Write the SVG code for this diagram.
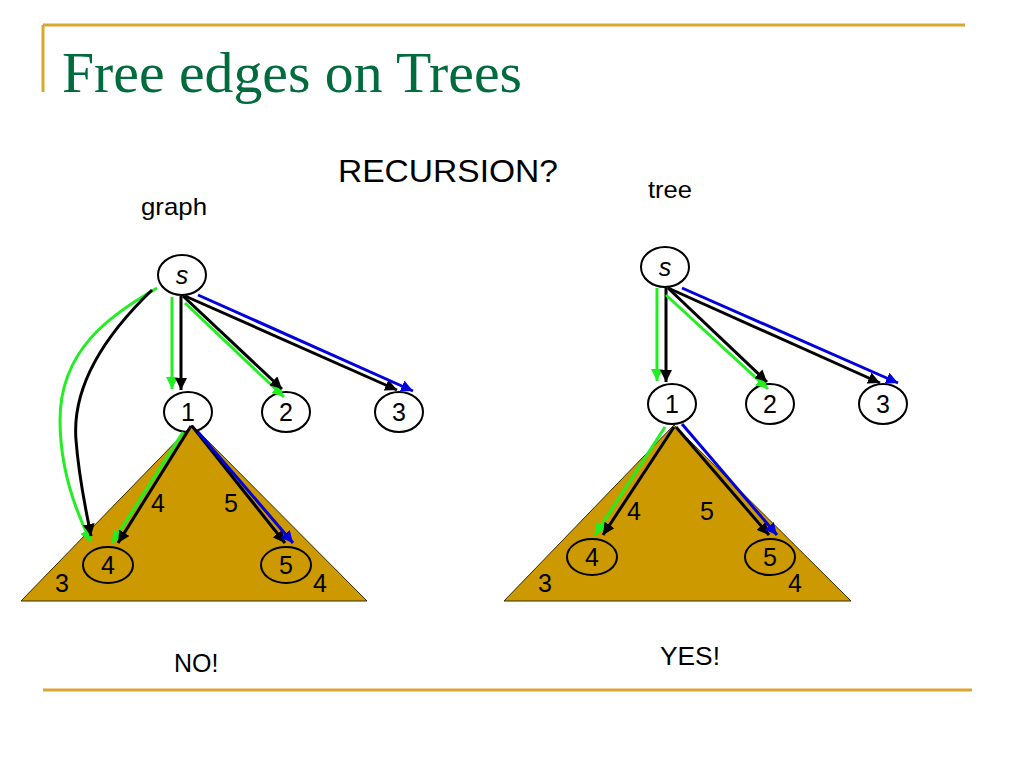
<svg xmlns="http://www.w3.org/2000/svg" width="1024" height="768" viewBox="0 0 1024 768">
<style>
.rule{stroke:#D9A62E;stroke-width:3;fill:none}
.title{font-family:"Liberation Serif","Times New Roman",serif;font-size:57px;fill:#006B3C}
.t{font-family:"Liberation Sans",Arial,sans-serif;fill:#000}
.node{fill:#fff;stroke:#000;stroke-width:2}
.open{fill:none;stroke:#000;stroke-width:2}
.lbl{font-family:"Liberation Sans",Arial,sans-serif;font-size:25px;fill:#000;text-anchor:middle}
.tri{fill:#CC9900;stroke:#3a2a00;stroke-width:1}
.k{stroke:#000;stroke-width:3;fill:none;marker-end:url(#ak)}
.g{stroke:#22EE22;stroke-width:3;fill:none;marker-end:url(#ag)}
.b{stroke:#0000DD;stroke-width:3;fill:none;marker-end:url(#ab)}
</style>
<defs>
<marker id="ak" markerUnits="userSpaceOnUse" markerWidth="14" markerHeight="12" refX="12" refY="6" orient="auto"><path d="M0,0 L12,6 L0,12 Z" fill="#000"/></marker>
<marker id="ag" markerUnits="userSpaceOnUse" markerWidth="14" markerHeight="12" refX="12" refY="6" orient="auto"><path d="M0,0 L12,6 L0,12 Z" fill="#22EE22"/></marker>
<marker id="ab" markerUnits="userSpaceOnUse" markerWidth="14" markerHeight="12" refX="12" refY="6" orient="auto"><path d="M0,0 L12,6 L0,12 Z" fill="#0000DD"/></marker>
</defs>
<rect width="1024" height="768" fill="#fff"/>
<line class="rule" x1="43" y1="25" x2="965" y2="25"/>
<line class="rule" x1="43" y1="25" x2="43" y2="92"/>
<line class="rule" x1="43" y1="690" x2="972" y2="690"/>
<text class="title" x="62" y="92" textLength="460" lengthAdjust="spacingAndGlyphs">Free edges on Trees</text>
<text class="t" x="338" y="182" font-size="32" textLength="220" lengthAdjust="spacingAndGlyphs">RECURSION?</text>
<text class="t" x="141" y="215" font-size="24" textLength="66" lengthAdjust="spacingAndGlyphs">graph</text>
<text class="t" x="648" y="198" font-size="24" textLength="44" lengthAdjust="spacingAndGlyphs">tree</text>
<text class="t" x="174" y="672" font-size="25">NO!</text>
<text class="t" x="660" y="665" font-size="25" textLength="60" lengthAdjust="spacingAndGlyphs">YES!</text>

<g id="left-s"><ellipse class="node" cx="182" cy="275" rx="24" ry="20"/><text class="lbl" x="182" y="284" font-style="italic">s</text></g>
<g id="left-1"><ellipse class="node" cx="188" cy="412" rx="24" ry="20"/><text class="lbl" x="188" y="421">1</text></g>
<g id="left-2"><ellipse class="node" cx="286" cy="412" rx="24" ry="20"/><text class="lbl" x="286" y="421">2</text></g>
<g id="left-3"><ellipse class="node" cx="399" cy="412" rx="24" ry="20"/><text class="lbl" x="399" y="421">3</text></g>
<polygon id="left-subtree" class="tri" points="192,425 21,601 367,601"/>

<g id="right-s"><ellipse class="node" cx="665" cy="267" rx="24" ry="20"/><text class="lbl" x="665" y="276" font-style="italic">s</text></g>
<g id="right-1"><ellipse class="node" cx="672" cy="404" rx="24" ry="20"/><text class="lbl" x="672" y="413">1</text></g>
<g id="right-2"><ellipse class="node" cx="770" cy="404" rx="24" ry="20"/><text class="lbl" x="770" y="413">2</text></g>
<g id="right-3"><ellipse class="node" cx="883" cy="404" rx="24" ry="20"/><text class="lbl" x="883" y="413">3</text></g>
<polygon id="right-subtree" class="tri" points="674,425 504,601 851,601"/>

<g id="left-4"><ellipse class="open" cx="108" cy="565" rx="25" ry="18"/><text class="lbl" x="108" y="574">4</text></g>
<g id="left-5"><ellipse class="open" cx="286" cy="565" rx="25" ry="18"/><text class="lbl" x="286" y="574">5</text></g>
<g id="right-4"><ellipse class="open" cx="592" cy="557" rx="25" ry="18"/><text class="lbl" x="592" y="566">4</text></g>
<g id="right-5"><ellipse class="open" cx="770" cy="557" rx="25" ry="18"/><text class="lbl" x="770" y="566">5</text></g>

<g id="labels">
<text class="lbl" x="62" y="592">3</text>
<text class="lbl" x="320" y="592">4</text>
<text class="lbl" x="158" y="512">4</text>
<text class="lbl" x="231" y="512">5</text>
<text class="lbl" x="545" y="592">3</text>
<text class="lbl" x="795" y="592">4</text>
<text class="lbl" x="634" y="520">4</text>
<text class="lbl" x="707" y="520">5</text>
</g>

<g id="connectors">
<path class="g" d="M157,288 C110,315 60,350 60,420 C60,470 75,510 91,542"/>
<path class="k" d="M152,290 C100,340 72,390 76,440 C79,480 86,510 91,536"/>
<line class="g" x1="172" y1="297" x2="172" y2="389"/>
<line class="k" x1="181" y1="296" x2="181" y2="390"/>
<line class="g" x1="185" y1="303" x2="284" y2="397"/>
<line class="k" x1="183" y1="296" x2="282" y2="389"/>
<line class="k" x1="185" y1="296" x2="397" y2="390"/>
<line class="b" x1="198" y1="295" x2="413" y2="391"/>
<line class="g" x1="183" y1="432" x2="112" y2="543"/>
<line class="k" x1="191" y1="426" x2="118" y2="543"/>
<line class="k" x1="192" y1="426" x2="285" y2="543"/>
<line class="b" x1="198" y1="432" x2="293" y2="543"/>

<line class="g" x1="657" y1="288" x2="657" y2="381"/>
<line class="k" x1="666" y1="288" x2="666" y2="382"/>
<line class="g" x1="666" y1="295" x2="768" y2="389"/>
<line class="k" x1="668" y1="288" x2="767" y2="382"/>
<line class="k" x1="668" y1="288" x2="880" y2="383"/>
<line class="b" x1="682" y1="288" x2="898" y2="383"/>
<line class="g" x1="665" y1="427" x2="595" y2="535"/>
<line class="k" x1="674" y1="427" x2="603" y2="535"/>
<line class="k" x1="676" y1="427" x2="769" y2="535"/>
<line class="b" x1="682" y1="424" x2="777" y2="535"/>
</g>
</svg>
